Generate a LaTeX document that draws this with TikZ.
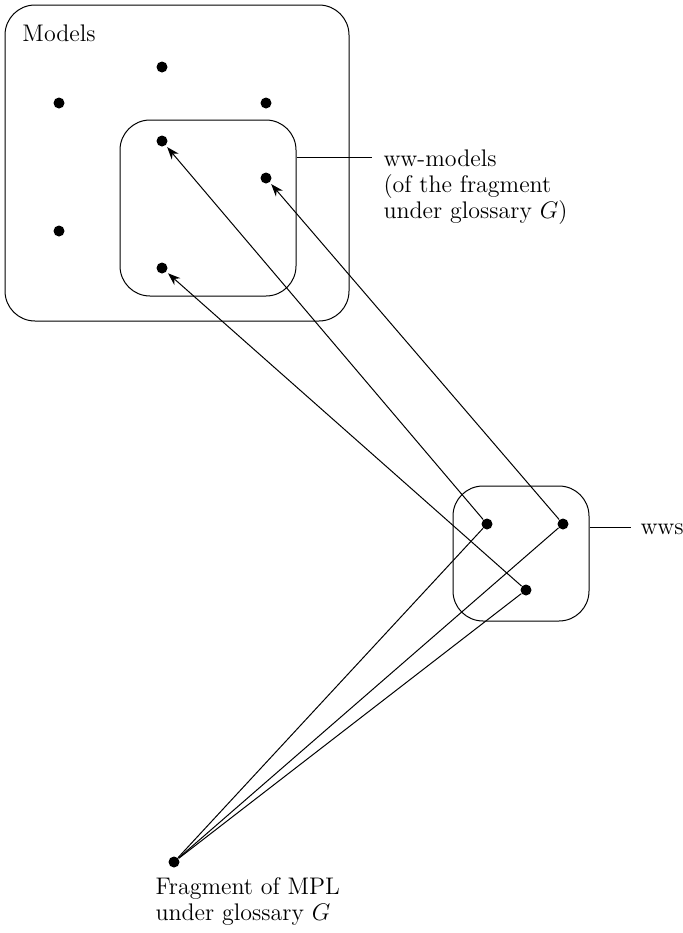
\documentclass[tikz,border=0pt]{standalone}
\usetikzlibrary{positioning, arrows.meta}

\begin{document}
\begin{tikzpicture}[
            x=0.5pt, y=-0.5pt,
            line width=0.5pt,
            box/.style={draw, rounded corners=15pt, inner sep=0pt},
            dot/.style={circle, fill, inner sep=0pt, minimum size=5.5pt},
            lbl/.style={align=left, font=\fontsize{12}{12.8}\selectfont, inner sep=0pt},
            arr/.style={-{Stealth[length=2.2mm, width=1.6mm]}, shorten >=1pt}
        ]
            \useasboundingbox (0,0) rectangle (683,933);

            % Boxes
            \node[box, minimum width=172pt, minimum height=158pt] (models) at (177,163) {};
            \node[box, minimum width=88pt, minimum height=88pt] (ww) at (208,208) {};
            \node[box, minimum width=68pt, minimum height=67.5pt] (wws) at (521,553.5) {};
            \node[lbl, anchor=base west] (modlbl) at (22,41) {Models};

            % Dots in the model space
            \node[dot] (m1) at (162,67) {};
            \node[dot] (m2) at (59,103) {};
            \node[dot] (m3) at (266,103) {};
            \node[dot] (m4) at (59,231) {};
            \node[dot] (a) at (162,141) {};
            \node[dot] (b) at (266,178) {};
            \node[dot] (c) at (162,268) {};

            % Dots for the wws
            \node[dot] (p) at (487,524) {};
            \node[dot] (q) at (563,524) {};
            \node[dot] (r) at (526,590) {};

            % Fragment (base anchor sits on the last line)
            \node[dot] (frag) at (174,862) {};
            \node[lbl, anchor=base west] (fraglbl) at (155,920) {Fragment of MPL\\under glossary $G$};

            % Labels with leader lines
            \coordinate (lead1) at (372,157);
            \coordinate (lead2) at (631,527);
            \node[lbl, anchor=base west] (wwlbl) at (383,218) {ww-models\\(of the fragment\\under glossary $G$)};
            \node[lbl, anchor=base west] (wwslbl) at (640,534) {wws};
            \draw (ww.east |- lead1) -- (lead1);
            \draw (wws.east |- lead2) -- (lead2);

            % Mapping wws to ww-models
            \draw[arr] (p) -- (a);
            \draw[arr] (q) -- (b);
            \draw[arr] (r) -- (c);

            % Fragment to wws
            \draw (frag) -- (p);
            \draw (frag) -- (q);
            \draw (frag) -- (r);
        \end{tikzpicture}
\end{document}
